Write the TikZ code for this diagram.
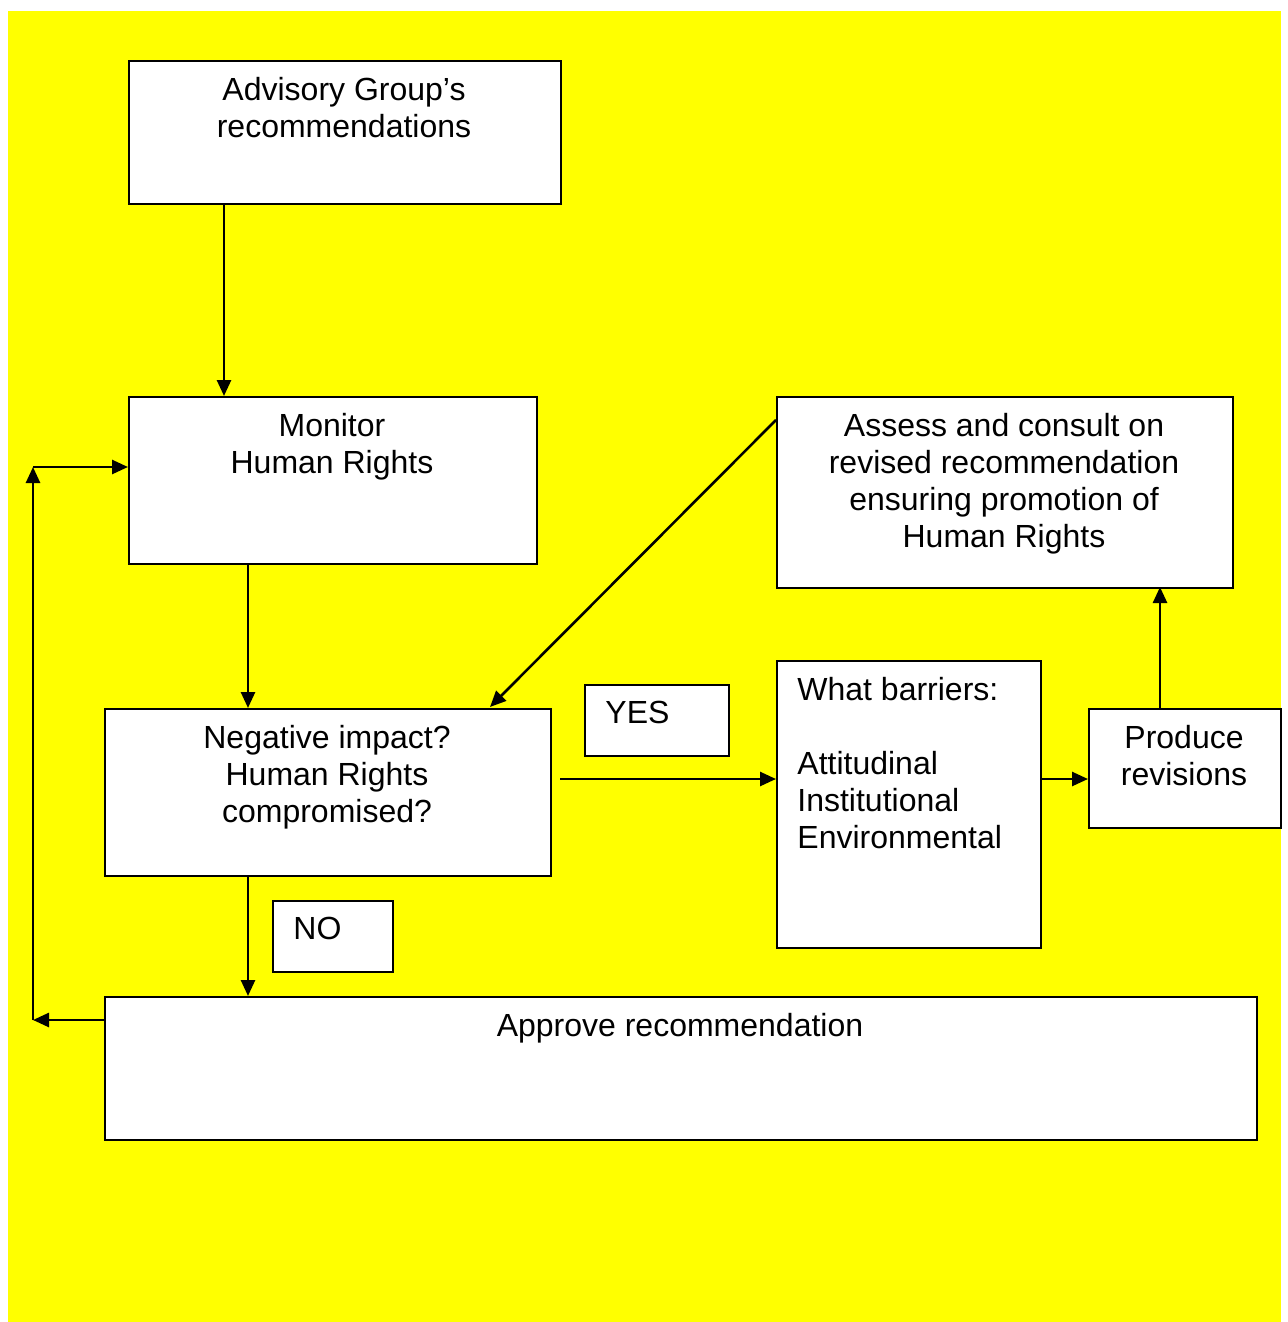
\documentclass[tikz,border=0pt]{standalone}
\usepackage{fontspec}
\setmainfont{Liberation Sans}
\usetikzlibrary{arrows.meta}
\definecolor{bgyellow}{RGB}{255,255,0}
\begin{document}
\begin{tikzpicture}[x=0.5pt,y=-0.5pt,
  box/.style={draw=black,line width=1.1pt,fill=white,rectangle,inner sep=0pt,anchor=north west},
  txt/.style={inner sep=0pt,font=\fontsize{16}{18.5}\selectfont},
  conn/.style={line width=1.3pt,-{Triangle[length=8pt,width=7pt]}}]
\useasboundingbox (0,0) rectangle (1288,1322);
\fill[white] (0,0) rectangle (1288,1322);
\fill[bgyellow] (8,11) rectangle (1281,1322);
% boxes
\node[box,minimum width=216pt,minimum height=71.5pt] (adv) at (128,60) {};
\node[box,minimum width=204pt,minimum height=83.5pt] (mon) at (128,396) {};
\node[box,minimum width=228pt,minimum height=95.5pt] (ass) at (776,396) {};
\node[box,minimum width=223pt,minimum height=83.5pt] (neg) at (104,708) {};
\node[box,minimum width=72pt,minimum height=35.5pt] (yes) at (584,684) {};
\node[box,minimum width=132pt,minimum height=143.5pt] (bar) at (776,660) {};
\node[box,minimum width=96pt,minimum height=59.5pt] (pro) at (1088,708) {};
\node[box,minimum width=60pt,minimum height=35.5pt] (no) at (272,900) {};
\node[box,minimum width=576pt,minimum height=71.5pt] (app) at (104,996) {};
% texts
\node[txt,align=center,anchor=north] (advt) at (344,77) {Advisory Group’s\\recommendations};
\node[txt,align=center,anchor=north] (mont) at (332,413) {Monitor\\Human Rights};
\node[txt,align=center,anchor=north] (asst) at (1004,413) {Assess and consult on\\revised recommendation\\ensuring promotion of\\Human Rights};
\node[txt,align=center,anchor=north] (negt) at (327,725) {Negative impact?\\Human Rights\\compromised?};
\node[txt,align=left,anchor=north west] (yest) at (605,701) {YES};
\node[txt,align=left,anchor=north west] (bart) at (797,677) {What barriers:\\[18.5pt]Attitudinal\\Institutional\\Environmental};
\node[txt,align=center,anchor=north] (prot) at (1184,725) {Produce\\revisions};
\node[txt,align=left,anchor=north west] (not) at (293,917) {NO};
\node[txt,align=center,anchor=north] (appt) at (680,1013) {Approve recommendation};
% connector coordinates
\coordinate (a1) at (224,203);
\coordinate (a2) at (224,396);
\coordinate (m1) at (248,563);
\coordinate (m2) at (248,708);
\coordinate (d1) at (776,420);
\coordinate (d2) at (490,707);
\coordinate (y1) at (560,779);
\coordinate (y2) at (776,779);
\coordinate (b1) at (1040,779);
\coordinate (b2) at (1088,779);
\coordinate (p1) at (1160,708);
\coordinate (p2) at (1160,587);
\coordinate (n1) at (248,875);
\coordinate (n2) at (248,996);
\coordinate (r0) at (104,1020);
\coordinate (r1) at (33,1020);
\coordinate (r2) at (33,467);
\coordinate (r3) at (128,467);
% connectors
\draw[conn] (a1) -- (a2);
\draw[conn] (m1) -- (m2);
\draw[conn] (d1) -- (d2);
\draw[conn] (y1) -- (y2);
\draw[conn] (b1) -- (b2);
\draw[conn] (p1) -- (p2);
\draw[conn] (n1) -- (n2);
\draw[conn] (r0) -- (r1);
\draw[conn] (r1) -- (r2);
\draw[conn] (r2) -- (r3);
\end{tikzpicture}
\end{document}
